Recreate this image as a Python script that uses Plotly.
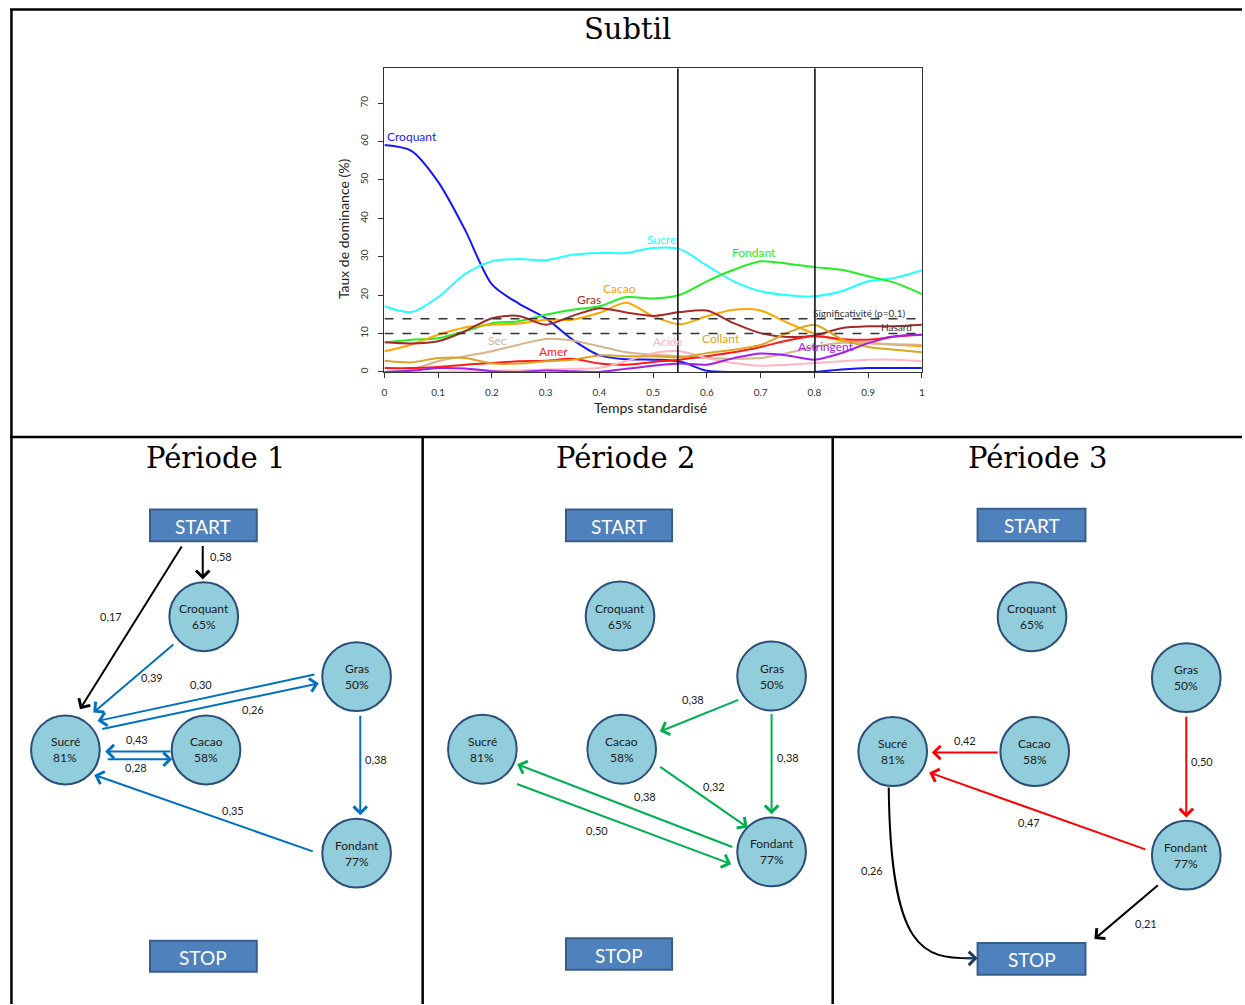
import plotly.graph_objects as go

W, H = 1245, 1005

# ---------------- TDS curve data (Temps standardisé vs Taux de dominance %) ----------------
t = [0, 0.05, 0.1, 0.15, 0.2, 0.25, 0.3, 0.35, 0.4, 0.45, 0.5,
     0.55, 0.6, 0.65, 0.7, 0.75, 0.8, 0.85, 0.9, 0.95, 1.0]
croquant = [59.1, 57.6, 49.5, 37.0, 22.8, 17.8, 14.0, 8.4, 4.3, 3.3, 3.2,
            2.7, 0.3, 0.0, 0.0, 0.0, 0.0, 0.6, 1.0, 1.0, 1.0]
sucre = [17.1, 15.6, 19.5, 25.5, 28.8, 29.4, 29.1, 30.5, 31.0, 31.0, 32.3,
         32.0, 27.7, 23.6, 21.0, 20.0, 19.7, 21.0, 23.6, 24.5, 26.5]
fondant = [7.7, 8.4, 8.8, 10.6, 12.7, 13.2, 14.9, 16.2, 17.1, 19.5, 19.1,
           20.1, 23.6, 26.6, 28.8, 28.2, 27.3, 26.6, 24.9, 23.2, 20.3]
cacao = [5.4, 7.1, 9.7, 11.6, 12.3, 12.6, 13.6, 13.6, 15.4, 18.0, 14.5,
         12.4, 14.5, 16.2, 16.0, 12.8, 10.0, 8.2, 7.6, 7.1, 6.7]
gras = [7.7, 7.4, 8.0, 10.6, 14.0, 14.6, 12.3, 14.6, 16.6, 15.5, 14.6,
        15.6, 16.0, 12.7, 10.1, 9.1, 9.5, 11.4, 11.9, 11.9, 12.3]
sec = [0.0, 0.6, 2.8, 4.1, 5.4, 7.1, 8.6, 8.2, 6.7, 5.1, 4.5,
       4.1, 3.6, 3.4, 3.6, 4.9, 6.5, 7.6, 7.4, 7.2, 7.1]
amer = [1.0, 1.0, 1.3, 1.9, 2.3, 2.8, 2.9, 3.4, 2.2, 1.9, 2.6,
        3.2, 4.1, 5.1, 6.5, 8.2, 9.3, 8.6, 8.4, 9.2, 9.7]
acide = [0.0, 0.0, 0.0, 0.2, 0.3, 0.4, 0.6, 0.8, 1.0, 2.8, 4.9,
         5.4, 3.6, 2.3, 1.6, 1.9, 2.3, 2.8, 3.2, 3.2, 2.8]
collant = [2.9, 2.5, 3.6, 3.6, 2.2, 2.2, 2.8, 3.2, 4.3, 4.1, 4.1,
           3.8, 4.9, 5.8, 7.0, 10.2, 12.3, 8.6, 6.5, 5.8, 5.1]
astringent = [0.0, 0.3, 1.0, 0.9, 0.2, 0.0, 0.4, 0.2, 0.0, 0.8, 1.6,
              2.2, 1.9, 3.6, 4.8, 4.3, 3.2, 4.9, 7.5, 9.3, 9.7]

attr_names = ["Croquant", "Sucre", "Fondant", "Cacao", "Gras", "Sec",
              "Amer", "Acide", "Collant", "Astringent"]
attr_values = [croquant, sucre, fondant, cacao, gras, sec, amer, acide, collant, astringent]

period_bounds = [0.546, 0.801]
signif_level = 13.87
chance_level = 10.0
x_ticks = [0, 0.1, 0.2, 0.3, 0.4, 0.5, 0.6, 0.7, 0.8, 0.9, 1]
x_ticktext = ["0", "0.1", "0.2", "0.3", "0.4", "0.5", "0.6", "0.7", "0.8", "0.9", "1"]
y_ticks = [0, 10, 20, 30, 40, 50, 60, 70]

# ---------------- Sequence (transition) data ----------------
node_names = ["Croquant", "Sucré", "Cacao", "Gras", "Fondant"]
node_pct = [65, 81, 58, 50, 77]

trans_period = [1, 1, 1, 1, 1, 1, 1, 1, 1,
                2, 2, 2, 2, 2,
                3, 3, 3, 3, 3]
trans_from = ["START", "START", "Croquant", "Gras", "Sucré", "Cacao", "Sucré", "Gras", "Fondant",
              "Gras", "Gras", "Cacao", "Fondant", "Sucré",
              "Cacao", "Fondant", "Gras", "Fondant", "Sucré"]
trans_to = ["Croquant", "Sucré", "Sucré", "Sucré", "Gras", "Sucré", "Cacao", "Fondant", "Sucré",
            "Cacao", "Fondant", "Fondant", "Sucré", "Fondant",
            "Sucré", "Sucré", "Fondant", "STOP", "STOP"]
trans_prob = [0.58, 0.17, 0.39, 0.30, 0.26, 0.43, 0.28, 0.38, 0.35,
              0.38, 0.38, 0.32, 0.38, 0.50,
              0.42, 0.47, 0.50, 0.21, 0.26]

# ---------------- Styling / layout geometry (pixels) ----------------
FONT = "Lato"
SERIF = "DejaVu Serif"
attr_colors = ["#1515FF", "#22FFFF", "#22EE22", "#FFA500", "#A52A2A", "#D8B48C",
               "#FF1A1A", "#FFB6C1", "#DAA520", "#A020F0"]
attr_label_pos = {  # (x, y, xanchor)
    "Croquant": (0.001, 61.2, "left"), "Sucre": (0.516, 34.4, "center"),
    "Fondant": (0.687, 31.0, "center"), "Cacao": (0.437, 21.7, "center"),
    "Gras": (0.381, 18.8, "center"), "Sec": (0.211, 8.1, "center"),
    "Amer": (0.315, 5.4, "center"), "Acide": (0.528, 7.8, "center"),
    "Collant": (0.626, 8.6, "center"), "Astringent": (0.822, 6.6, "center"),
}
period_colors = {1: "#0070C0", 2: "#00B050", 3: "#FF0000"}
node_pos = {
    1: {"Croquant": (201.7, 617.3), "Sucré": (62.7, 750.7), "Cacao": (204, 750.7),
        "Gras": (355.3, 677.3), "Fondant": (355.3, 854)},
    2: {"Croquant": (620, 616.7), "Sucré": (481.7, 750), "Cacao": (621.7, 750),
        "Gras": (772.3, 676.7), "Fondant": (772.3, 852.7)},
    3: {"Croquant": (1034, 617.3), "Sucré": (894, 752.3), "Cacao": (1036.7, 752.3),
        "Gras": (1189, 678.3), "Fondant": (1189, 856)},
}
box_pos = {  # x0, x1, start y0, y1, stop y0, y1
    1: (147.7, 255, 510, 541.7, 941.7, 972.7),
    2: (565.7, 672.3, 510, 541.7, 939.3, 970.7),
    3: (979.3, 1087.7, 509.3, 541.7, 944, 975.7),
}
R = 34.5
# edge geometry: tail, head, label position
edge_geom = [
    ((200.7, 545), (200.7, 580), (219, 557.5)),
    ((180, 545.7), (77.3, 710), (109, 616.7)),
    ((172.3, 644), (90.7, 713.3), (150, 678.3)),
    ((313.3, 675), (95, 721.7), (199.3, 685)),
    ((99.3, 730), (317.3, 684), (251.7, 710)),
    ((169.3, 752.3), (102.7, 752.3), (135, 740)),
    ((104, 760), (170, 760), (133.3, 768.3)),
    ((359, 715), (359, 816), (375, 760.7)),
    ((311.7, 852.7), (91.7, 775.7), (230.7, 811)),
    ((740, 700), (660, 732.3), (693.3, 700)),
    ((772.3, 713.3), (772.3, 815), (788.3, 758.3)),
    ((659.3, 766.7), (748.3, 828.3), (714, 787.3)),
    ((733.3, 848.3), (516.7, 765), (645, 797.7)),
    ((516, 784.3), (731.7, 865), (597.3, 831.7)),
    ((1000.7, 753.3), (933.3, 753.3), (966.7, 741.7)),
    ((1148.3, 850.7), (930.7, 773.3), (1031, 823.3)),
    ((1189, 716), (1189, 818.3), (1205, 762.3)),
    ((1161.7, 885), (1096.7, 940), (1148.3, 924.3)),
    ((890, 788.3), (979.3, 959.3), (873.3, 871.7)),   # curved
]
curved_edges = {18}

# plot area of the TDS chart (pixels)
PX0, PX1, PY0, PY1 = 383.3, 923.3, 68.3, 372.3
Y_MAX = (PY1 - PY0) / ((PY1 - 103.3) / 70.0)


def px(x):
    return x / W


def py(y):
    return 1 - y / H


def text_ann(x, y, text, size, color, family=FONT, xref="paper", yref="paper",
             xanchor="center", **kw):
    d = dict(xref=xref, yref=yref, x=x, y=y, text=text, showarrow=False,
             xanchor=xanchor, yanchor="middle",
             font=dict(family=family, size=size, color=color))
    d.update(kw)
    return d


fig = go.Figure()

for name, vals, col in zip(attr_names, attr_values, attr_colors):
    fig.add_trace(go.Scatter(
        x=t, y=vals, mode="lines", name=name,
        line=dict(color=col, width=2, shape="spline", smoothing=0.8),
        showlegend=False, hoverinfo="skip"))

shapes = []
annotations = []

# TDS reference lines
for pb in period_bounds:
    shapes.append(dict(type="line", xref="x", yref="y", x0=pb, x1=pb, y0=0, y1=Y_MAX,
                       line=dict(color="#111111", width=1.6)))
for lvl in (signif_level, chance_level):
    shapes.append(dict(type="line", xref="x", yref="y", x0=0, x1=1, y0=lvl, y1=lvl,
                       line=dict(color="#333333", width=1.6, dash="dash")))

for name, col in zip(attr_names, attr_colors):
    lx, ly, anc = attr_label_pos[name]
    annotations.append(text_ann(lx, ly, name, 12, col, xref="x", yref="y", xanchor=anc))
annotations.append(text_ann(0.883, 15.3, "Significativité (p=0.1)", 10, "#333333",
                            xref="x", yref="y"))
annotations.append(text_ann(0.953, 11.8, "Hasard", 10, "#333333", xref="x", yref="y"))

# axis titles
annotations.append(text_ann(px(342), py(229), "Taux de dominance (%)", 14, "#222222",
                            textangle=-90))
annotations.append(text_ann(px(651), py(408), "Temps standardisé", 14, "#222222"))

# frame lines
frame = [((8.5, 9), (8.5, 1005)), ((7, 9.5), (1245, 9.5)), ((7, 437.5), (1245, 437.5)),
         ((421.7, 437), (421.7, 1005)), ((833.7, 437), (833.7, 1005))]
for (x0, y0), (x1, y1) in frame:
    shapes.append(dict(type="line", xref="paper", yref="paper", x0=px(x0), y0=py(y0),
                       x1=px(x1), y1=py(y1), line=dict(color="black", width=2.5)))

# titles
titles = [("Subtil", 628, 29), ("Période 1", 213.5, 458), ("Période 2", 626, 458),
          ("Période 3", 1039.5, 458)]
for txt, x, y in titles:
    annotations.append(text_ann(px(x), py(y), txt, 29, "black", family=SERIF))

# network panels
for p in (1, 2, 3):
    bx0, bx1, sy0, sy1, ey0, ey1 = box_pos[p]
    for lab, y0, y1 in (("START", sy0, sy1), ("STOP", ey0, ey1)):
        shapes.append(dict(type="rect", xref="paper", yref="paper",
                           x0=px(bx0), x1=px(bx1), y0=py(y1), y1=py(y0),
                           fillcolor="#4F81BD", line=dict(color="#385D8A", width=2)))
        annotations.append(text_ann(px((bx0 + bx1) / 2), py((y0 + y1) / 2 + 1), lab, 19, "white"))
    for name, pct in zip(node_names, node_pct):
        cx, cy = node_pos[p][name]
        shapes.append(dict(type="circle", xref="paper", yref="paper",
                           x0=px(cx - R), x1=px(cx + R), y0=py(cy + R), y1=py(cy - R),
                           fillcolor="#92CDDC", line=dict(color="#2A4D7A", width=2)))
        annotations.append(text_ann(px(cx), py(cy - 8), name, 12, "#1A1A1A"))
        annotations.append(text_ann(px(cx), py(cy + 8), f"{pct}%", 12, "#1A1A1A"))

for i, (per, src, dst, prob) in enumerate(zip(trans_period, trans_from, trans_to, trans_prob)):
    (tx, ty), (hx, hy), (lx, ly) = edge_geom[i]
    col = "black" if (src == "START" or dst == "STOP") else period_colors[per]
    if i in curved_edges:
        path = (f"M {px(tx)} {py(ty)} C {px(tx + 2)} {py(ty + 165)}, "
                f"{px(tx + 35)} {py(hy)}, {px(hx - 6)} {py(hy)}")
        shapes.append(dict(type="path", xref="paper", yref="paper", path=path,
                           line=dict(color="black", width=2)))
        annotations.append(dict(xref="paper", yref="paper", x=px(hx), y=py(hy),
                                ax=-14, ay=0, text="", showarrow=True, arrowhead=4,
                                arrowsize=1.3, arrowwidth=2, arrowcolor="#1F3864", standoff=0))
    else:
        annotations.append(dict(xref="paper", yref="paper", x=px(hx), y=py(hy),
                                ax=tx - hx, ay=ty - hy, axref="pixel", ayref="pixel",
                                text="", showarrow=True, arrowhead=4, arrowsize=1.3,
                                arrowwidth=2, arrowcolor=col, standoff=0))
    annotations.append(text_ann(px(lx), py(ly), f"{prob:.2f}".replace(".", ","), 11, "#1A1A1A"))

fig.update_layout(
    width=W, height=H, margin=dict(l=0, r=0, t=0, b=0),
    paper_bgcolor="white", plot_bgcolor="rgba(0,0,0,0)",
    showlegend=False, shapes=shapes, annotations=annotations,
    xaxis=dict(domain=[px(PX0), px(PX1)], range=[0, 1], tickvals=x_ticks, ticktext=x_ticktext,
               ticks="outside", ticklen=5, tickcolor="#333333", showgrid=False, zeroline=False,
               showline=True, mirror=True, linecolor="#333333", linewidth=1,
               tickfont=dict(family=FONT, size=10, color="#333333"), ticklabelstandoff=6),
    yaxis=dict(domain=[py(PY1), py(PY0)], range=[0, Y_MAX], tickvals=y_ticks,
               ticks="outside", ticklen=5, tickcolor="#333333", showgrid=False, zeroline=False,
               showline=True, mirror=True, linecolor="#333333", linewidth=1, tickangle=-90,
               tickfont=dict(family=FONT, size=10, color="#333333"), ticklabelstandoff=6),
)

fig.write_html(
    "out.html", config={"displayModeBar": False},
    post_script=("document.body.style.margin='0';"
                 "document.body.style.overflow='hidden';"
                 "document.documentElement.style.overflow='hidden';"))
